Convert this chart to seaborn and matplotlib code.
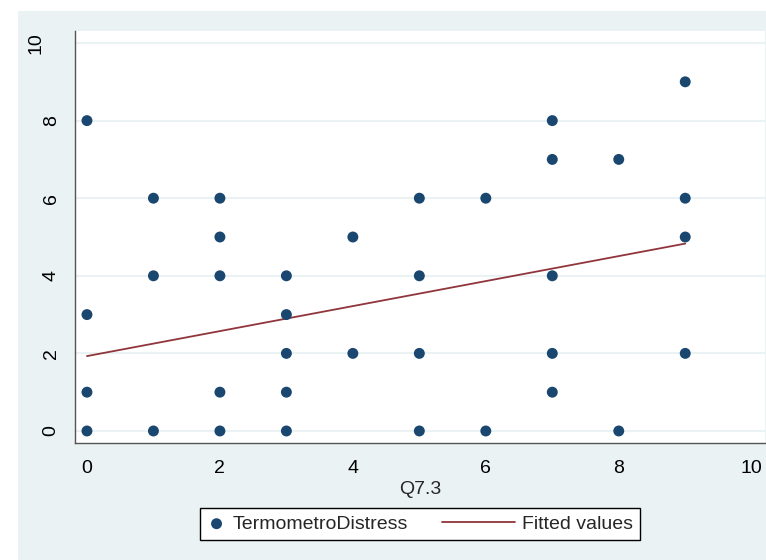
import numpy as np
import pandas as pd
import matplotlib
matplotlib.use('Agg')
import matplotlib.pyplot as plt
import matplotlib.transforms as mtransforms
import seaborn as sns
from matplotlib.patches import Rectangle
from matplotlib.lines import Line2D
from matplotlib.legend_handler import HandlerLine2D

# scatter points (Q7.3 vs TermometroDistress), one per distinct pair seen
q73 = [0, 0, 0, 0,
       1, 1, 1,
       2, 2, 2, 2, 2,
       3, 3, 3, 3, 3,
       4, 4,
       5, 5, 5, 5,
       6, 6,
       7, 7, 7, 7, 7,
       8, 8,
       9, 9, 9, 9]
distress = [8, 3, 1, 0,
            6, 4, 0,
            6, 5, 4, 1, 0,
            4, 3, 2, 1, 0,
            5, 2,
            6, 4, 2, 0,
            6, 0,
            8, 7, 4, 2, 1,
            7, 0,
            9, 6, 5, 2]

# fitted values line end points
fit_x = [0, 9]
fit_y = [1.93, 4.83]

xticks = [0, 2, 4, 6, 8, 10]
yticks = [0, 2, 4, 6, 8, 10]

navy = '#1A476F'
maroon = '#90353B'
bg = '#EAF2F3'
fs = 14


class LongLineHandler(HandlerLine2D):
    # stata-like legend: short slot for the marker, long line for the fit
    def create_artists(self, legend, orig_handle, xdescent, ydescent,
                       width, height, fontsize, trans):
        extra = 2.75 * fontsize
        y = (height - ydescent) / 2.0
        ln = Line2D([-xdescent - extra, -xdescent + width], [y, y],
                    color=orig_handle.get_color(), linewidth=orig_handle.get_linewidth())
        ln.set_transform(trans)
        return [ln]


sns.set_style('white')
plt.rcParams['font.family'] = ['Liberation Sans', 'DejaVu Sans']

fig = plt.figure(figsize=(7.66, 5.60), dpi=100, facecolor='white')
fig.patches.append(Rectangle((18 / 766, 0), 1, 1 - 11 / 560, transform=fig.transFigure,
                             facecolor=bg, edgecolor='none', zorder=-5))
ax = fig.add_axes([75 / 766, 1 - 443 / 560, 690 / 766, 412 / 560])
ax.set_facecolor('white')

df = pd.DataFrame({'Q7.3': q73, 'TermometroDistress': distress})
fit = pd.DataFrame({'x': fit_x, 'y': fit_y})

sns.scatterplot(data=df, x='Q7.3', y='TermometroDistress', ax=ax, color=navy,
                s=62, edgecolor='none', label='TermometroDistress', zorder=3, legend=False)
sns.lineplot(data=fit, x='x', y='y', ax=ax, color=maroon, linewidth=1.3,
             label='Fitted values', zorder=2, legend=False)

ax.set_xlim(-0.18, 10.2)
ax.set_ylim(-0.31, 10.31)
ax.set_xticks(xticks)
ax.set_yticks(yticks)
ax.yaxis.grid(True, color=bg, linewidth=1.5)
ax.xaxis.grid(False)
ax.set_axisbelow(True)

for side in ['top', 'right']:
    ax.spines[side].set_visible(False)
for side in ['left', 'bottom']:
    ax.spines[side].set_color('#555555')
    ax.spines[side].set_linewidth(1.0)

ax.tick_params(axis='both', direction='out', length=6, width=1, color='#555555',
               labelsize=fs, labelcolor='black')
ax.tick_params(axis='x', pad=6)
ax.tick_params(axis='y', pad=5)
for lab in ax.get_yticklabels():
    lab.set_rotation(90)
    lab.set_va('center')
    if lab.get_text() == '10':
        # stata places the wider rotated label further out
        lab.set_transform(lab.get_transform() +
                          mtransforms.ScaledTranslation(-15 / 100, 0, fig.dpi_scale_trans))
ax.set_xlabel('Q7.3', fontsize=fs, labelpad=3)
ax.set_ylabel('')

handles, labels = ax.get_legend_handles_labels()
line_handle = [h for h in handles if isinstance(h, Line2D)][0]
leg = fig.legend(handles, labels, loc='center', bbox_to_anchor=(420 / 766, 1 - 524 / 560),
                 ncol=2, fontsize=fs, frameon=True, fancybox=False, edgecolor='black',
                 facecolor='white', framealpha=1, handlelength=1.0, columnspacing=4.5,
                 borderpad=0.35, handletextpad=0.35,
                 handler_map={line_handle: LongLineHandler()})
leg.get_frame().set_linewidth(1.0)

fig.savefig('out.png', dpi=100, facecolor='white')
